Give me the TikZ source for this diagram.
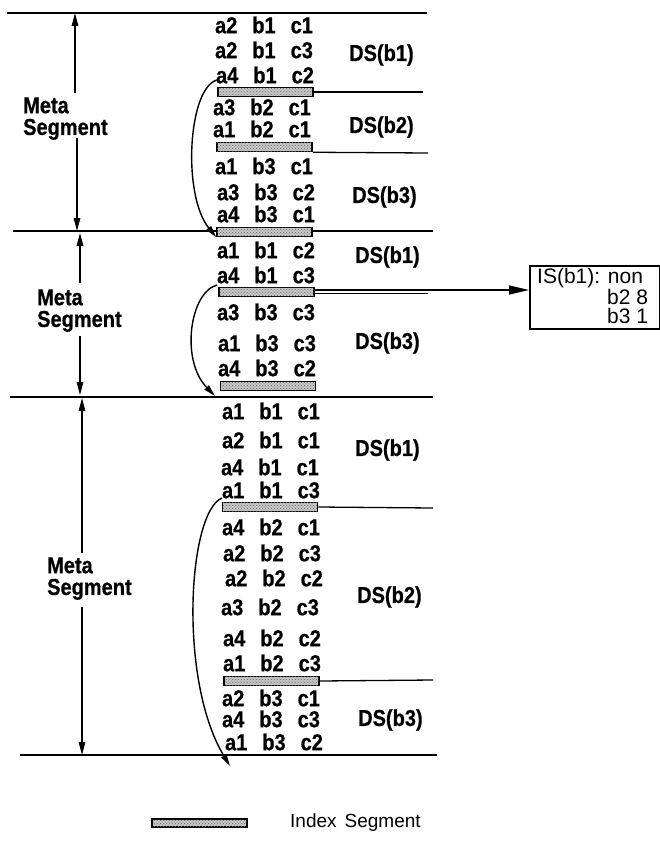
\documentclass[tikz,border=0pt]{standalone}
\usepackage{fontspec}
\usepackage{graphicx}
\setmainfont{Liberation Sans}
\newfontfamily\hv{Liberation Sans}[BoldFeatures={FakeBold=0.7}]
\usetikzlibrary{arrows.meta,patterns}
\newcommand\tl[1]{\scalebox{1}[1.15]{#1}}
\newcommand\trip[3]{\tl{#1\hspace{15pt}#2\hspace{15pt}#3}}
\newcommand\metatxt{\tl{\begin{tabular}[c]{@{}l@{}}Meta\\Segment\end{tabular}}}
\begin{document}
\begin{tikzpicture}[x=1pt,y=-1pt,
  row/.style={font=\fontsize{20}{20}\hv\bfseries, inner sep=0pt},
  ds/.style={font=\fontsize{20}{20}\hv\bfseries, anchor=west, inner sep=0pt},
  meta/.style={font=\fontsize{20}{16.5}\hv\bfseries, anchor=west, inner sep=0pt},
  plain/.style={font=\fontsize{21}{21}\selectfont, anchor=west, inner sep=0pt},
  ibar/.style={draw=black, line width=1.5pt, fill=black!22,
    postaction={pattern=crosshatch dots, pattern color=black!60},
    minimum width=95pt, minimum height=9pt, inner sep=0pt},
  heavy/.style={line width=2.9pt},
  light/.style={line width=1.3pt},
  dim/.style={line width=1.4pt, -{Triangle[length=13pt,width=6.5pt]}},
  jump/.style={line width=1.4pt, -{Triangle[length=12pt,width=6pt]}},
]
\useasboundingbox (0,0) rectangle (660,843);

% ---------------- horizontal lines ----------------
\draw[heavy] (7,13) -- (310,13);   \draw[light] (310,13) -- (427,13);
\draw[heavy] (13,231) -- (313,231); \draw[light] (313,231) -- (433,231);
\draw[heavy] (10,397) -- (317,397); \draw[light] (317,397) -- (433,397);
\draw[heavy] (20,755) -- (323,755); \draw[light] (323,755) -- (437,755);

% ---------------- segment 1 ----------------
\node[row] (s1r1) at (264,25)  {\trip{a2}{b1}{c1}};
\node[row] (s1r2) at (264,50)  {\trip{a2}{b1}{c3}};
\node[row] (s1r3) at (265,75)  {\trip{a4}{b1}{c2}};
\node[ibar] (s1b1) at (265.5,92) {};
\node[row] (s1r4) at (262,107) {\trip{a3}{b2}{c1}};
\node[row] (s1r5) at (262,129) {\trip{a1}{b2}{c1}};
\node[ibar] (s1b2) at (264.5,147) {};
\node[row] (s1r6) at (264,166) {\trip{a1}{b3}{c1}};
\node[row] (s1r7) at (266,192) {\trip{a3}{b3}{c2}};
\node[row] (s1r8) at (266,214) {\trip{a4}{b3}{c1}};
\node[ibar] (s1b3) at (264.5,232) {};
\draw[light] (s1b1.east) -- (423,92);
\draw[light] (s1b2.south east) -- (428,153);

\node[ds] (s1d1) at (349,55)  {\tl{DS(b1)}};
\node[ds] (s1d2) at (349,127) {\tl{DS(b2)}};
\node[ds] (s1d3) at (352,197) {\tl{DS(b3)}};

\node[meta] (m1) at (23,119) {\metatxt};
\coordinate (m1a) at (75,93);  \coordinate (m1b) at (75,13);
\coordinate (m1c) at (77,138); \coordinate (m1d) at (77,231);
\draw[dim] (m1a) -- (m1b);
\draw[dim] (m1c) -- (m1d);

\coordinate (c1s) at (217,80);
\draw[jump] (c1s) .. controls (188,88) and (182,195) .. (s1b3.south west);

% ---------------- segment 2 ----------------
\node[row] (s2r1) at (266,250) {\trip{a1}{b1}{c2}};
\node[row] (s2r2) at (266,275) {\trip{a4}{b1}{c3}};
\node[ibar] (s2b1) at (266.5,292) {};
\node[row] (s2r3) at (266,312) {\trip{a3}{b3}{c3}};
\node[row] (s2r4) at (267,343) {\trip{a1}{b3}{c3}};
\node[row] (s2r5) at (267,368) {\trip{a4}{b3}{c2}};
\node[ibar] (s2b2) at (268,386) {};

\node[ds] (s2d1) at (355,257) {\tl{DS(b1)}};
\node[ds] (s2d3) at (355,343) {\tl{DS(b3)}};

\node[meta] (m2) at (37,311) {\metatxt};
\coordinate (m2a) at (80,283); \coordinate (m2b) at (80,233);
\coordinate (m2c) at (80,336); \coordinate (m2d) at (80,395);
\draw[dim] (m2a) -- (m2b);
\draw[dim] (m2c) -- (m2d);

\coordinate (c2s) at (217,285);
\coordinate (c2e) at (215,396);
\draw[jump] (c2s) .. controls (190,292) and (180,360) .. (c2e);

% IS box
\node[draw, line width=1.5pt, anchor=north west, minimum width=130pt,
      minimum height=63pt, inner sep=0pt] (isbox) at (529,265) {};
\node[plain] (is1) at (537,278) {IS(b1): non};
\node[plain] (is2) at (607,297) {b2 8};
\node[plain] (is3) at (607,316) {b3 1};
\coordinate (isa) at (s2b1.east |- 0,290);
\coordinate (isb) at (s2b1.east |- 0,293.5);
\draw[light, -{Triangle[length=20pt,width=9pt]}] (isa) -- (isa -| isbox.west);
\draw[light] (isb) -- (428,293.5);

% ---------------- segment 3 ----------------
\node[row] (s3r1)  at (271,411) {\trip{a1}{b1}{c1}};
\node[row] (s3r2)  at (271,440) {\trip{a2}{b1}{c1}};
\node[row] (s3r3)  at (270,467) {\trip{a4}{b1}{c1}};
\node[row] (s3r4)  at (271,490) {\trip{a1}{b1}{c3}};
\node[ibar] (s3b1) at (270,507) {};
\node[row] (s3r5)  at (271,527) {\trip{a4}{b2}{c1}};
\node[row] (s3r6)  at (272,553) {\trip{a2}{b2}{c3}};
\node[row] (s3r7)  at (274,578) {\trip{a2}{b2}{c2}};
\node[row] (s3r8)  at (270,607) {\trip{a3}{b2}{c3}};
\node[row] (s3r9)  at (272,638) {\trip{a4}{b2}{c2}};
\node[row] (s3r10) at (272,663) {\trip{a1}{b2}{c3}};
\node[ibar] (s3b2) at (271.5,681) {};
\node[row] (s3r11) at (271,698) {\trip{a2}{b3}{c1}};
\node[row] (s3r12) at (271,719) {\trip{a4}{b3}{c3}};
\node[row] (s3r13) at (274,742) {\trip{a1}{b3}{c2}};
\draw[light] (s3b1.east) -- (433,508);
\draw[light] (s3b2.east) -- (433,680);

\node[ds] (s3d1) at (355,450) {\tl{DS(b1)}};
\node[ds] (s3d2) at (357,597) {\tl{DS(b2)}};
\node[ds] (s3d3) at (358,720) {\tl{DS(b3)}};

\node[meta] (m3) at (47,579) {\metatxt};
\coordinate (m3a) at (82,553); \coordinate (m3b) at (82,398);
\coordinate (m3c) at (82,607); \coordinate (m3d) at (82,755);
\draw[dim] (m3a) -- (m3b);
\draw[dim] (m3c) -- (m3d);

\coordinate (c3s) at (222,498);
\coordinate (c3e) at (230,766);
\draw[jump] (c3s) .. controls (188,512) and (178,680) .. (c3e);

% ---------------- legend ----------------
\node[ibar, minimum height=8pt] (lbar) at (199.5,823) {};
\node[plain, font=\fontsize{19}{19}\selectfont] (ltext) at (290,823) {Index\hspace{8pt}Segment};
\end{tikzpicture}
\end{document}
